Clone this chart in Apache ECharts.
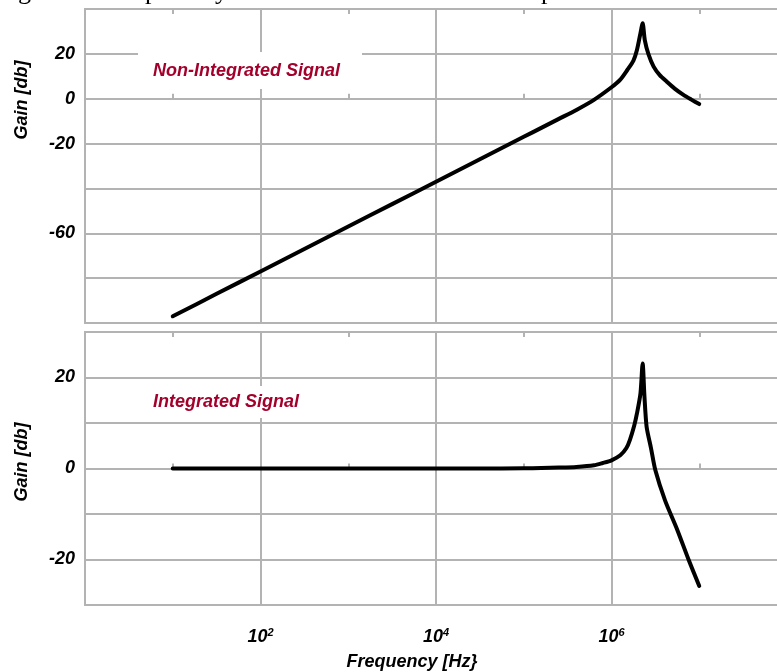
<!DOCTYPE html>
<html>
<head>
<meta charset="utf-8">
<script src="https://cdn.jsdelivr.net/npm/echarts@6/dist/echarts.min.js"></script>
<style>
    html, body { margin: 0; padding: 0; background: #fff; }
    #chart { width: 777px; height: 672px; }
</style>
</head>
<body>
<div id="chart"></div>
<script>
// x values are log10 of the frequency in Hz
var nonIntegratedLogF = [1.0, 1.5, 2.0, 2.5, 3.0, 3.5, 4.0, 4.5, 5.0, 5.2, 5.4, 5.6, 5.8, 6.0, 6.1, 6.18, 6.25, 6.29, 6.33, 6.355, 6.38, 6.42, 6.48, 6.55, 6.63, 6.72, 6.82, 6.91, 7.0];
var nonIntegratedGain = [-97, -87, -77, -67, -57, -47, -37, -27, -17, -13, -9, -5, -0.5, 5.1, 8.5, 12.8, 17, 21.7, 29.2, 33.6, 26, 20, 14.3, 10.5, 7.6, 4.5, 1.7, -0.4, -2.4];

var integratedLogF = [1.0, 2.0, 3.0, 4.0, 4.5, 5.0, 5.2, 5.4, 5.6, 5.8, 5.9, 6.0, 6.1, 6.17, 6.21, 6.26, 6.29, 6.33, 6.355, 6.375, 6.40, 6.45, 6.50, 6.61, 6.75, 6.88, 7.0];
var integratedGain = [0, 0, 0, 0, 0, 0.05, 0.1, 0.2, 0.35, 0.7, 1.2, 1.8, 2.9, 4.5, 6.3, 9.5, 12.1, 16.5, 23.1, 16, 9.2, 4.5, -0.4, -7.0, -13.5, -20.1, -25.8];

var topGainLabels = [20, 0, -20, -60];
var bottomGainLabels = [20, 0, -20];
var freqLabelExponents = [2, 4, 6];

var FONT = '"Liberation Sans", Arial, sans-serif';
var GRID_COLOR = '#b3b3b3';

var zip = function (xs, ys) {
    var out = [];
    for (var i = 0; i < xs.length; i++) {
        out.push([xs[i], ys[i]]);
    }
    return out;
};

var makeXAxis = function (gridIndex, position, showSplit, showLabel) {
    return {
        type: 'value',
        gridIndex: gridIndex,
        position: position,
        min: 0,
        max: 8,
        interval: 2,
        axisLine: { show: false },
        axisTick: { show: true, inside: true, length: 5, lineStyle: { color: GRID_COLOR, width: 2 } },
        minorTick: { show: true, splitNumber: 2, length: 5, lineStyle: { color: GRID_COLOR, width: 2 } },
        splitLine: { show: showSplit, lineStyle: { color: GRID_COLOR, width: 2 } },
        axisLabel: {
            show: showLabel,
            margin: 22,
            formatter: function (value) {
                if (freqLabelExponents.indexOf(value) < 0)
                    return '';
                return '{b|10}{s|' + value + '}';
            },
            rich: {
                b: { fontFamily: FONT, fontSize: 18, fontWeight: 'bold', fontStyle: 'italic', color: '#000' },
                s: { fontFamily: FONT, fontSize: 11, fontWeight: 'bold', fontStyle: 'italic', color: '#000', verticalAlign: 'bottom', padding: [0, 0, 9, 0] }
            }
        }
    };
};

var makeYAxis = function (gridIndex, min, max, interval, labels) {
    return {
        type: 'value',
        gridIndex: gridIndex,
        min: min,
        max: max,
        interval: interval,
        axisLine: { show: false },
        axisTick: { show: false },
        splitLine: { show: true, lineStyle: { color: GRID_COLOR, width: 2 } },
        axisLabel: {
            margin: 10,
            fontFamily: FONT,
            fontSize: 18,
            fontWeight: 'bold',
            fontStyle: 'italic',
            color: '#000',
            formatter: function (value) {
                return labels.indexOf(value) < 0 ? '' : String(value);
            }
        }
    };
};

var makeSeries = function (name, xIndex, yIndex, xs, ys) {
    return {
        name: name,
        type: 'line',
        xAxisIndex: xIndex,
        yAxisIndex: yIndex,
        showSymbol: false,
        smooth: 0.25,
        lineStyle: { color: '#000', width: 4, cap: 'round', join: 'round' },
        data: zip(xs, ys)
    };
};

var titleText = function (text, x, y, rotation) {
    return {
        type: 'text',
        x: x,
        y: y,
        rotation: rotation || 0,
        z: 50,
        style: {
            text: text,
            font: 'italic bold 18px ' + FONT,
            fill: '#000',
            align: 'center',
            verticalAlign: 'middle'
        }
    };
};

var signalLabel = function (text, x, y, padding) {
    return {
        type: 'text',
        x: x,
        y: y,
        z: 50,
        style: {
            text: text,
            font: 'italic bold 18px ' + FONT,
            fill: '#a3002b',
            lineHeight: 20,
            backgroundColor: '#fff',
            padding: padding,
            align: 'left',
            verticalAlign: 'top'
        }
    };
};

//descenders of the caption line above the chart
var captionGlyph = function (ch, x) {
    return {
        type: 'text',
        x: x,
        y: -8,
        z: 50,
        style: {
            text: ch,
            font: '26px "Liberation Serif", "Times New Roman", serif',
            fill: '#000',
            align: 'left',
            verticalAlign: 'middle'
        }
    };
};

var chart = echarts.init(document.getElementById('chart'));

var option = {
    animation: false,
    backgroundColor: '#fff',
    grid: [
        { left: 85, top: 9, width: 702, height: 314, outerBoundsMode: 'none', show: true, borderColor: GRID_COLOR, borderWidth: 2 },
        { left: 85, top: 332, width: 702, height: 273, outerBoundsMode: 'none', show: true, borderColor: GRID_COLOR, borderWidth: 2 }
    ],
    xAxis: [
        makeXAxis(0, 'bottom', true, false),
        makeXAxis(0, 'top', false, false),
        makeXAxis(1, 'bottom', true, true),
        makeXAxis(1, 'top', false, false)
    ],
    yAxis: [
        makeYAxis(0, -100, 40, 20, topGainLabels),
        makeYAxis(1, -30, 30, 10, bottomGainLabels)
    ],
    series: [
        makeSeries('Non-Integrated Signal', 0, 0, nonIntegratedLogF, nonIntegratedGain),
        makeSeries('Integrated Signal', 2, 1, integratedLogF, integratedGain)
    ],
    graphic: [
        captionGlyph('g', 18),
        captionGlyph('p', 145),
        captionGlyph('y', 215),
        captionGlyph('p', 541),
        signalLabel('Non-Integrated Signal', 138, 52, [9, 22, 8, 15]),
        signalLabel('Integrated Signal', 140, 386, [6, 15, 6, 13]),
        titleText('Gain [db]', 22, 100, Math.PI / 2),
        titleText('Gain [db]', 22, 462, Math.PI / 2),
        titleText('Frequency [Hz}', 412, 662)
    ]
};

chart.setOption(option);
</script>
</body>
</html>
